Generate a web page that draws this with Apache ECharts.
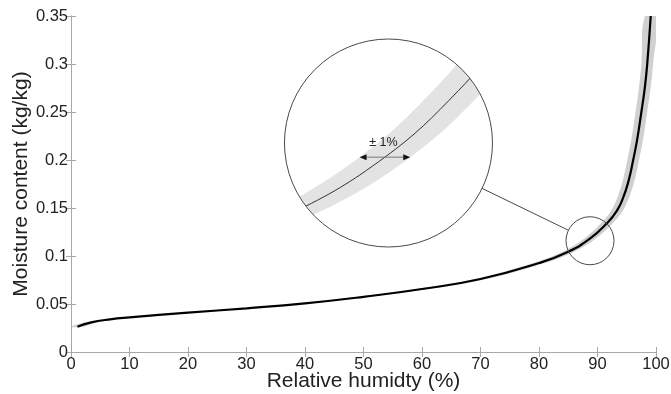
<!DOCTYPE html>
<html>
<head>
<meta charset="utf-8">
<script src="https://cdn.jsdelivr.net/npm/echarts@6/dist/echarts.min.js"></script>
<style>
html,body{margin:0;padding:0;background:#ffffff;}
#chart{width:671px;height:394px;}
</style>
</head>
<body>
<div id="chart"></div>
<script>
// ---- data ----
const humidity = [1.1, 3.3, 6.7, 10, 20, 30, 40, 50, 60, 70, 80, 85, 88.7, 91.6, 93.3, 94.4, 95.3, 96.1, 96.8, 97.5, 98.1, 98.5, 99.1];
const moisture = [0.0264, 0.0306, 0.034, 0.036, 0.041, 0.0455, 0.0507, 0.0575, 0.0656, 0.076, 0.0927, 0.1045, 0.118, 0.134, 0.147, 0.161, 0.178, 0.2, 0.222, 0.25, 0.276, 0.3, 0.35];
const bandHalfWidth = 1;            // ± 1 % relative humidity
const xRange = [0, 100, 10];        // min, max, step
const yRange = [0, 0.35, 0.05];
const xTitle = 'Relative humidty (%)';
const yTitle = 'Moisture content (kg/kg)';
const arrowLabel = '± 1%';
// magnifier annotation (data coordinates)
const lensCircle = [88.72, 0.1159];
const lensView = [88.84, 0.1214];
const insetCenter = [54.27, 0.2177];
const arrowIndex = 12;

const FONT = '"Liberation Sans", Arial, Helvetica, sans-serif';
const lensRadius = 24, insetRadius = 104;
const AXIS_COLOR = '#a8a8a8';

const chart = echarts.init(document.getElementById('chart'), null, {renderer: 'canvas'});

function bandRender(params, api) {
  const up = [], lo = [];
  for (let i = 0; i < humidity.length; i++) up.push(api.coord([humidity[i] - bandHalfWidth, moisture[i]]));
  for (let i = humidity.length - 1; i >= 0; i--) lo.push(api.coord([humidity[i] + bandHalfWidth, moisture[i]]));
  return {type: 'polygon', shape: {points: up.concat(lo), smooth: 0.4}, style: {fill: '#d0d0d0'}};
}

function insetRender(params, api) {
  const C = api.coord(insetCenter);
  const S = api.coord(lensCircle);
  const V = api.coord(lensView);
  const k = insetRadius / lensRadius;
  const mag = p => [C[0] + k * (p[0] - V[0]), C[1] + k * (p[1] - V[1])];
  const up = [], lo = [], mid = [];
  for (let i = 0; i < humidity.length; i++) {
    mid.push(mag(api.coord([humidity[i], moisture[i]])));
    up.push(mag(api.coord([humidity[i] - bandHalfWidth, moisture[i]])));
    lo.unshift(mag(api.coord([humidity[i] + bandHalfWidth, moisture[i]])));
  }
  const dx = S[0] - C[0], dy = S[1] - C[1];
  const len = Math.sqrt(dx * dx + dy * dy);
  const u = [dx / len, dy / len];
  const pxPerUnit = api.coord([1, 0])[0] - api.coord([0, 0])[0];
  const A = mag(api.coord([humidity[arrowIndex], moisture[arrowIndex]]));
  const half = k * pxPerUnit * bandHalfWidth;
  const hl = 7, hh = 3;
  return {
    type: 'group',
    children: [
      {type: 'circle', shape: {cx: C[0], cy: C[1], r: insetRadius}, style: {fill: '#ffffff', stroke: 'none'}},
      {
        type: 'group',
        clipPath: {type: 'circle', shape: {cx: C[0], cy: C[1], r: insetRadius}},
        children: [
          {type: 'polygon', shape: {points: up.concat(lo), smooth: 0.4}, style: {fill: '#e3e3e3'}},
          {type: 'polyline', shape: {points: mid, smooth: 0.4}, style: {stroke: '#333333', lineWidth: 1, fill: 'none'}}
        ]
      },
      {type: 'circle', shape: {cx: C[0], cy: C[1], r: insetRadius}, style: {fill: 'none', stroke: '#4a4a4a', lineWidth: 1}},
      {type: 'circle', shape: {cx: S[0], cy: S[1], r: lensRadius}, style: {fill: 'none', stroke: '#4a4a4a', lineWidth: 1}},
      {type: 'line', shape: {x1: C[0] + u[0] * insetRadius, y1: C[1] + u[1] * insetRadius, x2: S[0] - u[0] * lensRadius, y2: S[1] - u[1] * lensRadius}, style: {stroke: '#4a4a4a', lineWidth: 1}},
      {type: 'line', shape: {x1: A[0] - half + hl, y1: A[1], x2: A[0] + half - hl, y2: A[1]}, style: {stroke: '#777777', lineWidth: 1}},
      {type: 'polygon', shape: {points: [[A[0] - half, A[1]], [A[0] - half + hl, A[1] - hh], [A[0] - half + hl, A[1] + hh]]}, style: {fill: '#111111'}},
      {type: 'polygon', shape: {points: [[A[0] + half, A[1]], [A[0] + half - hl, A[1] - hh], [A[0] + half - hl, A[1] + hh]]}, style: {fill: '#111111'}},
      {type: 'text', x: A[0] - 1.5, y: A[1] - 15, style: {text: arrowLabel, fontSize: 12.5, fontFamily: FONT, fill: '#222222', align: 'center', verticalAlign: 'middle'}}
    ]
  };
}

function axisCommon(range) {
  return {
    type: 'value', min: range[0], max: range[1], interval: range[2],
    axisLine: {show: true, lineStyle: {color: AXIS_COLOR, width: 1}},
    axisTick: {show: true, inside: true, length: 5, lineStyle: {color: AXIS_COLOR, width: 1}},
    splitLine: {show: false},
    z: 5
  };
}

const option = {
  animation: false,
  backgroundColor: '#ffffff',
  grid: {left: 71, right: 15, top: 16, bottom: 42, containLabel: false, outerBoundsMode: 'none'},
  xAxis: [
    Object.assign(axisCommon(xRange), {
      position: 'bottom',
      axisLabel: {color: '#222222', fontSize: 16.5, fontFamily: FONT, margin: 4},
      name: xTitle, nameLocation: 'middle', nameGap: 19, nameMoveOverlap: false,
      nameTextStyle: {color: '#222222', fontSize: 21, fontFamily: FONT}
    }),
    Object.assign(axisCommon(xRange), {position: 'top', axisLabel: {show: false}})
  ],
  yAxis: [
    Object.assign(axisCommon(yRange), {
      position: 'left',
      axisLabel: {color: '#222222', fontSize: 16.5, fontFamily: FONT, margin: 3},
      name: yTitle, nameLocation: 'middle', nameGap: 39, nameMoveOverlap: false,
      nameTextStyle: {color: '#222222', fontSize: 21, fontFamily: FONT}
    }),
    Object.assign(axisCommon(yRange), {position: 'right', axisLabel: {show: false}})
  ],
  series: [
    {
      type: 'custom', name: 'band', renderItem: bandRender, clip: true, silent: true, z: 1,
      data: [[humidity[0], moisture[0]]]
    },
    {
      type: 'line', name: 'curve', smooth: 0.5, showSymbol: false, clip: true, silent: true, z: 2,
      lineStyle: {color: '#000000', width: 2.2},
      data: humidity.map((h, i) => [h, moisture[i]])
    },
    {
      type: 'custom', name: 'inset', renderItem: insetRender, clip: false, silent: true, z: 3,
      data: [[lensCircle[0], lensCircle[1]]]
    }
  ]
};
chart.setOption(option);
</script>
</body>
</html>
